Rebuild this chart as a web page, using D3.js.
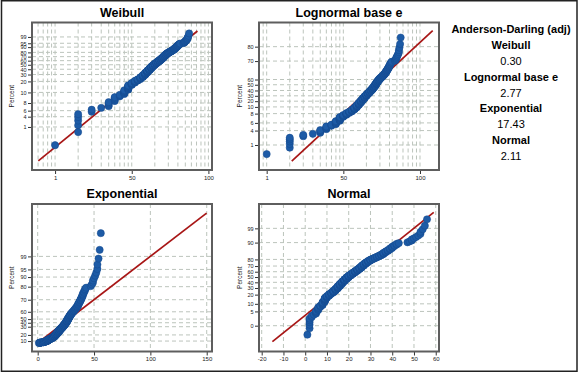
<!DOCTYPE html>
<html>
<head>
<meta charset="utf-8">
<script src="https://cdn.jsdelivr.net/npm/d3@7"></script>
<style>
body { margin: 0; background: #fff; }
svg { display: block; font-family: "Liberation Sans", Arial, sans-serif; }
</style>
</head>
<body>
<div id="chart"></div>
<script>
// observed values and how often each one occurs (n = 240)
var sampleValues = [1,2,3,4,5,6,7,8,9,10,11,12,13,14,15,16,17,18,19,20,21,22,23,24,25,26,27,28,29,30,
    31,32,33,34,35,36,37,38,39,40,41,42,43,47,48,49,50,51,52,53,54,55,56];
var sampleCounts = [1,5,2,1,4,5,3,7,10,6,6,5,7,8,10,10,10,10,9,8,7,7,7,7,7,8,7,6,5,4,
    3,3,3,3,3,4,3,3,3,3,2,2,1,1,1,2,1,1,1,2,1,1,1];

// fitted distributions
var weibullShape = 1.85, weibullScale = 25.3;
var lognormalLoc = 2.87, lognormalScale = 0.685;
var exponentialMean = 21.7;
var normalMean = 22.0, normalSd = 12.0;

// goodness of fit
var fitNames = ["Weibull", "Lognormal base e", "Exponential", "Normal"];
var adValues = ["0.30", "2.77", "17.43", "2.11"];

// axis ticks (percent position) and the labels printed next to them
var weibullTicks = [1,2,3,5,10,20,30,40,50,60,70,80,90,95,99];
var weibullTickLabels = ["1","4","6","8","10","20","30","40","50","60","70","80","90","95","99"];
var lognormalTicks = [1,5,10,20,30,40,50,60,70,78,95,99];
var lognormalTickLabels = ["1","4","6","8","10","20","30","40","50","60","70","80"];
var exponentialTicks = [10,35,58,66,72,81,90,95,97,98,99];
var exponentialTickLabels = ["10","20","30","40","50","60","70","80","90","95","99"];
var normalTicks = [1,5,10,20,30,40,50,60,70,80,95,99];
var normalTickLabels = ["0","5","10","20","30","40","50","60","70","80","90","99"];

var logXTicks = [1, 10, 100];
var logXTickLabels = ["1", "50", "100"];
var weibullXGrid = [0.6,0.7,0.8,0.9,1,2,3,4,5,6,7,8,9,10,20,30,40,50,60,70,80,90,100];
var lognormalXGrid = [0.8,0.9,1,2,3,4,5,6,7,8,9,10,20,30,40,50,60,70,80,90,100];
var exponentialXTicks = [0, 50, 100, 150];
var normalXTicks = [-20, -10, 0, 10, 20, 30, 40, 50, 60];

function probit(p) {
    var a = [-39.69683028665376, 220.9460984245205, -275.9285104469687, 138.3577518672690, -30.66479806614716, 2.506628277459239];
    var b = [-54.47609879822406, 161.5858368580409, -155.6989798598866, 66.80131188771972, -13.28068155288572];
    var c = [-0.007784894002430293, -0.3223964580411365, -2.400758277161838, -2.549732539343734, 4.374664141464968, 2.938163982698783];
    var d = [0.007784695709041462, 0.3224671290700398, 2.445134137142996, 3.754408661907416];
    var q, r;
    if (p < 0.02425) {
        q = Math.sqrt(-2 * Math.log(p));
        return (((((c[0]*q+c[1])*q+c[2])*q+c[3])*q+c[4])*q+c[5]) / ((((d[0]*q+d[1])*q+d[2])*q+d[3])*q+1);
    }
    if (p > 1 - 0.02425) {
        q = Math.sqrt(-2 * Math.log(1 - p));
        return -(((((c[0]*q+c[1])*q+c[2])*q+c[3])*q+c[4])*q+c[5]) / ((((d[0]*q+d[1])*q+d[2])*q+d[3])*q+1);
    }
    q = p - 0.5; r = q * q;
    return (((((a[0]*r+a[1])*r+a[2])*r+a[3])*r+a[4])*r+a[5])*q / (((((b[0]*r+b[1])*r+b[2])*r+b[3])*r+b[4])*r+1);
}
function weibullT(p) { return Math.log(-Math.log(1 - p)); }
function expT(p) { return -Math.log(1 - p); }

// expand counts into the sorted sample, median-rank plotting positions
var sample = [];
sampleValues.forEach(function(v, k) {
    for (var j = 0; j < sampleCounts[k]; j++) sample.push(v);
});
var n = sample.length;
var points = sample.map(function(v, i) { return {value: v, p: (i + 1 - 0.3) / (n + 0.4)}; });

var svg = d3.select("#chart").append("svg")
    .attr("width", 579)
    .attr("height", 373);

svg.append("rect")
    .attr("x", 1.5).attr("y", 0.75)
    .attr("width", 575.5).attr("height", 370.5)
    .attr("fill", "none")
    .attr("stroke", "#222")
    .attr("stroke-width", 1.5);

var panels = [
    {title: "Weibull", left: 32, right: 212, top: 22.5, bottom: 170, labelX: 12,
     x: d3.scaleLog().domain([0.5, 111.4]), xTicks: logXTicks, xLabels: logXTickLabels, xGrid: weibullXGrid,
     yT: weibullT, yDomain: [-7.53, 2.51], yTicks: weibullTicks, yLabels: weibullTickLabels,
     quantile: function(p) { return weibullScale * Math.pow(-Math.log(1 - p), 1 / weibullShape); }},
    {title: "Lognormal base e", left: 259, right: 439, top: 22.5, bottom: 170, labelX: 240,
     x: d3.scaleLog().domain([0.794, 177]), xTicks: logXTicks, xLabels: logXTickLabels, xGrid: lognormalXGrid,
     yT: probit, yDomain: [-3.51, 3.47], yTicks: lognormalTicks, yLabels: lognormalTickLabels,
     quantile: function(p) { return Math.exp(lognormalLoc + lognormalScale * probit(p)); }},
    {title: "Exponential", left: 32, right: 212, top: 204, bottom: 351.5, labelX: 12,
     x: d3.scaleLinear().domain([-5.06, 154.7]), xTicks: exponentialXTicks, xLabels: exponentialXTicks.map(String), xGrid: exponentialXTicks,
     yT: expT, yDomain: [-0.45, 7.39], yTicks: exponentialTicks, yLabels: exponentialTickLabels,
     quantile: function(p) { return exponentialMean * -Math.log(1 - p); }},
    {title: "Normal", left: 259, right: 439, top: 204, bottom: 351.5, labelX: 240,
     x: d3.scaleLinear().domain([-21.24, 61.5]), xTicks: normalXTicks, xLabels: normalXTicks.map(String), xGrid: normalXTicks,
     yT: probit, yDomain: [-3.56, 3.49], yTicks: normalTicks, yLabels: normalTickLabels,
     quantile: function(p) { return normalMean + normalSd * probit(p); }}
];

panels.forEach(drawPanel);

function drawPanel(c) {
    var x = c.x.range([c.left, c.right]);
    var y = d3.scaleLinear().domain(c.yDomain).range([c.bottom, c.top]);
    var g = svg.append("g");

    // title
    g.append("text")
        .attr("x", (c.left + c.right) / 2)
        .attr("y", c.top - 6)
        .attr("text-anchor", "middle")
        .attr("font-size", "12.5px")
        .attr("font-weight", "bold")
        .text(c.title);

    // grid
    g.selectAll(".vg").data(c.xGrid).enter().append("line")
        .attr("x1", function(d) { return x(d); }).attr("x2", function(d) { return x(d); })
        .attr("y1", c.top).attr("y2", c.bottom)
        .attr("stroke", "#bcc4bc").attr("stroke-width", 1)
        .attr("stroke-dasharray", "4,3");
    g.selectAll(".hg").data(c.yTicks).enter().append("line")
        .attr("x1", c.left).attr("x2", c.right)
        .attr("y1", function(d) { return y(c.yT(d / 100)); }).attr("y2", function(d) { return y(c.yT(d / 100)); })
        .attr("stroke", "#bcc4bc").attr("stroke-width", 1)
        .attr("stroke-dasharray", "4,3");

    // axes
    var xa = g.append("g")
        .attr("transform", "translate(0," + c.bottom + ")")
        .call(d3.axisBottom(x).tickValues(c.xTicks).tickFormat(function(d, i) { return c.xLabels[i]; })
            .tickSize(4).tickPadding(1.5));
    var ya = g.append("g")
        .attr("transform", "translate(" + c.left + ",0)")
        .call(d3.axisLeft(y).tickValues(c.yTicks.map(function(d) { return c.yT(d / 100); }))
            .tickFormat(function(d, i) { return c.yLabels[i]; })
            .tickSize(4).tickPadding(1.5));
    [xa, ya].forEach(function(a) {
        a.select(".domain").remove();
        a.attr("font-family", "Liberation Sans, Arial, sans-serif");
        a.selectAll("text").attr("fill", "#222");
        a.selectAll("line").attr("stroke", "#333");
    });
    xa.attr("font-size", "6px");
    ya.attr("font-size", "5.5px");

    g.append("text")
        .attr("transform", "translate(" + (c.labelX + 2) + "," + ((c.top + c.bottom) / 2) + ") rotate(-90)")
        .attr("text-anchor", "middle")
        .attr("font-size", "6.5px")
        .attr("fill", "#222")
        .text("Percent");

    // frame
    g.append("rect")
        .attr("x", c.left).attr("y", c.top)
        .attr("width", c.right - c.left).attr("height", c.bottom - c.top)
        .attr("fill", "none")
        .attr("stroke", "#5e5e5e")
        .attr("stroke-width", 2);

    // fitted line from 0.1% to 99.9%
    var ends = [0.001, 0.999];
    g.append("path")
        .datum(ends)
        .attr("fill", "none")
        .attr("stroke", "#a81616")
        .attr("stroke-width", 1.7)
        .attr("d", d3.line()
            .x(function(p) { return x(c.quantile(p)); })
            .y(function(p) { return y(c.yT(p)); }));

    // points
    g.selectAll(".pt").data(points).enter().append("circle")
        .attr("cx", function(d) { return x(d.value); })
        .attr("cy", function(d) { return y(c.yT(d.p)); })
        .attr("r", 3.6)
        .attr("fill", "#1d5ba6")
        .attr("stroke", "#14498c")
        .attr("stroke-width", 0.5);
}

// Anderson-Darling box
var stats = svg.append("g").attr("text-anchor", "middle");
stats.append("text")
    .attr("x", 511).attr("y", 33)
    .attr("font-size", "11px").attr("font-weight", "bold")
    .text("Anderson-Darling (adj)");
fitNames.forEach(function(name, i) {
    stats.append("text")
        .attr("x", 511).attr("y", 49 + i * 31.7)
        .attr("font-size", "11px").attr("font-weight", "bold")
        .text(name);
    stats.append("text")
        .attr("x", 511).attr("y", 65 + i * 31.7)
        .attr("font-size", "11px")
        .text(adValues[i]);
});
</script>
</body>
</html>
